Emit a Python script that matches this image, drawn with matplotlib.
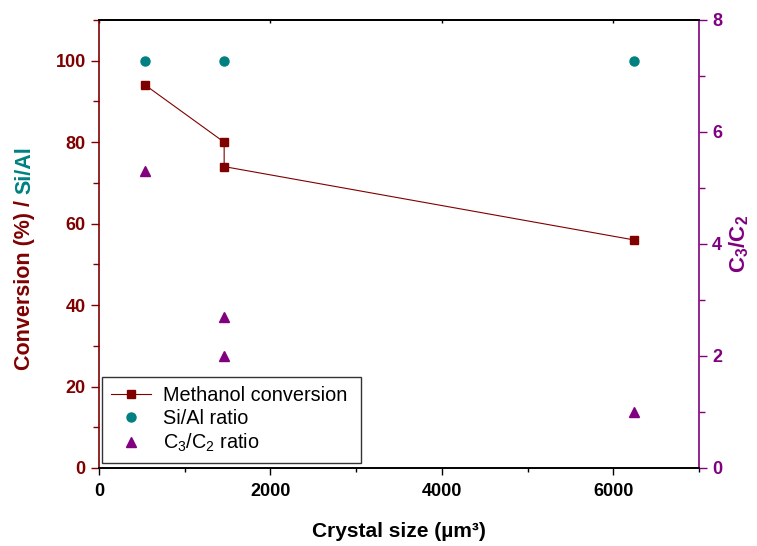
import numpy as np
import matplotlib
matplotlib.use("Agg")
import matplotlib.pyplot as plt
from matplotlib.ticker import MultipleLocator

plt.rcParams['font.family'] = ['Liberation Sans', 'DejaVu Sans']
plt.rcParams['mathtext.fontset'] = 'custom'
plt.rcParams['mathtext.rm'] = 'Liberation Sans'
plt.rcParams['mathtext.it'] = 'Liberation Sans'
plt.rcParams['mathtext.bf'] = 'Liberation Sans:bold'

RED = '#800000'
TEAL = '#008080'
PURPLE = '#800080'

# data
size_conv = [540, 1460, 1460, 6240]
conversion = [94, 80, 74, 56]
size_sial = [540, 1460, 6240]
sial = [100, 100, 100]
size_c3c2 = [540, 1460, 1460, 6240]
c3c2 = [5.3, 2.7, 2.0, 1.0]

fig = plt.figure(figsize=(7.57, 5.46), dpi=100)
ax = fig.add_axes([0.1308, 0.1429, 0.7926, 0.8205])
ax2 = ax.twinx()

l1, = ax.plot(size_conv, conversion, color=RED, lw=0.8, marker='s', ms=6,
              mfc=RED, mec=RED, label='Methanol conversion')
l2, = ax.plot(size_sial, sial, ls='none', marker='o', ms=6.5, color=TEAL,
              label='Si/Al ratio')
l3, = ax2.plot(size_c3c2, c3c2, ls='none', marker='^', ms=7.5, color=PURPLE,
               label=r'C$_\mathrm{3}$/C$_\mathrm{2}$ ratio')

ax.set_xlim(0, 7000)
ax.set_ylim(0, 110)
ax2.set_ylim(0, 8)

ax.xaxis.set_major_locator(MultipleLocator(2000))
ax.xaxis.set_minor_locator(MultipleLocator(1000))
ax.yaxis.set_major_locator(MultipleLocator(20))
ax.yaxis.set_minor_locator(MultipleLocator(10))
ax2.yaxis.set_major_locator(MultipleLocator(2))
ax2.yaxis.set_minor_locator(MultipleLocator(1))

ax.tick_params(axis='x', which='major', direction='out', length=5, width=1,
               labelsize=13, top=False, pad=6)
ax.tick_params(axis='x', which='minor', direction='out', length=3, width=1, top=False)
ax.tick_params(axis='y', which='major', direction='out', length=6, width=1,
               color=RED, labelcolor=RED, labelsize=13)
ax.tick_params(axis='y', which='minor', direction='out', length=4, width=1, color=RED)
ax2.tick_params(axis='y', which='major', direction='out', length=6, width=1,
                color=PURPLE, labelcolor=PURPLE, labelsize=13)
ax2.tick_params(axis='y', which='minor', direction='out', length=4, width=1, color=PURPLE)

# small inward ticks on the top axis
secx = ax.secondary_xaxis('top')
secx.xaxis.set_major_locator(MultipleLocator(2000))
secx.tick_params(direction='in', length=2.5, width=1, labeltop=False)
secx.spines['top'].set_linewidth(1.2)

for lab in ax.get_xticklabels() + ax.get_yticklabels() + ax2.get_yticklabels():
    lab.set_fontweight('bold')

ax.spines['left'].set_color(RED)
ax2.spines['left'].set_color(RED)
ax2.spines['right'].set_color(PURPLE)
for s in ['left', 'right', 'top', 'bottom']:
    ax.spines[s].set_linewidth(1.2)
    ax2.spines[s].set_linewidth(1.2)
ax.spines['right'].set_visible(False)
ax2.spines['left'].set_visible(False)

ax.set_xlabel('Crystal size (µm³)', fontsize=15, fontweight='bold', labelpad=16)

# two-coloured left label
t1 = fig.text(0.033, 0.322, 'Conversion (%) / ', color=RED, fontsize=15.5,
              fontweight='bold', rotation=90, ha='left', va='center',
              rotation_mode='anchor')
fig.canvas.draw()
bb = t1.get_window_extent().transformed(fig.transFigure.inverted())
fig.text(0.033, bb.y1, 'Si/Al', color=TEAL, fontsize=15.5, fontweight='bold',
         rotation=90, ha='left', va='center', rotation_mode='anchor')

ax2.set_ylabel(r'C$_\mathbf{3}$/C$_\mathbf{2}$', color=PURPLE, fontsize=16,
               fontweight='bold', labelpad=4)

leg = ax.legend(handles=[l1, l2, l3], loc='lower left',
                bbox_to_anchor=(0.005, 0.011, 0.432, 0.19), mode='expand',
                fontsize=14.3, frameon=True, fancybox=False, edgecolor='black',
                handlelength=2.0, labelspacing=0.2, borderpad=0.45,
                handletextpad=0.6, borderaxespad=0)
leg.get_frame().set_linewidth(1.0)

fig.savefig('out.png', dpi=100)
